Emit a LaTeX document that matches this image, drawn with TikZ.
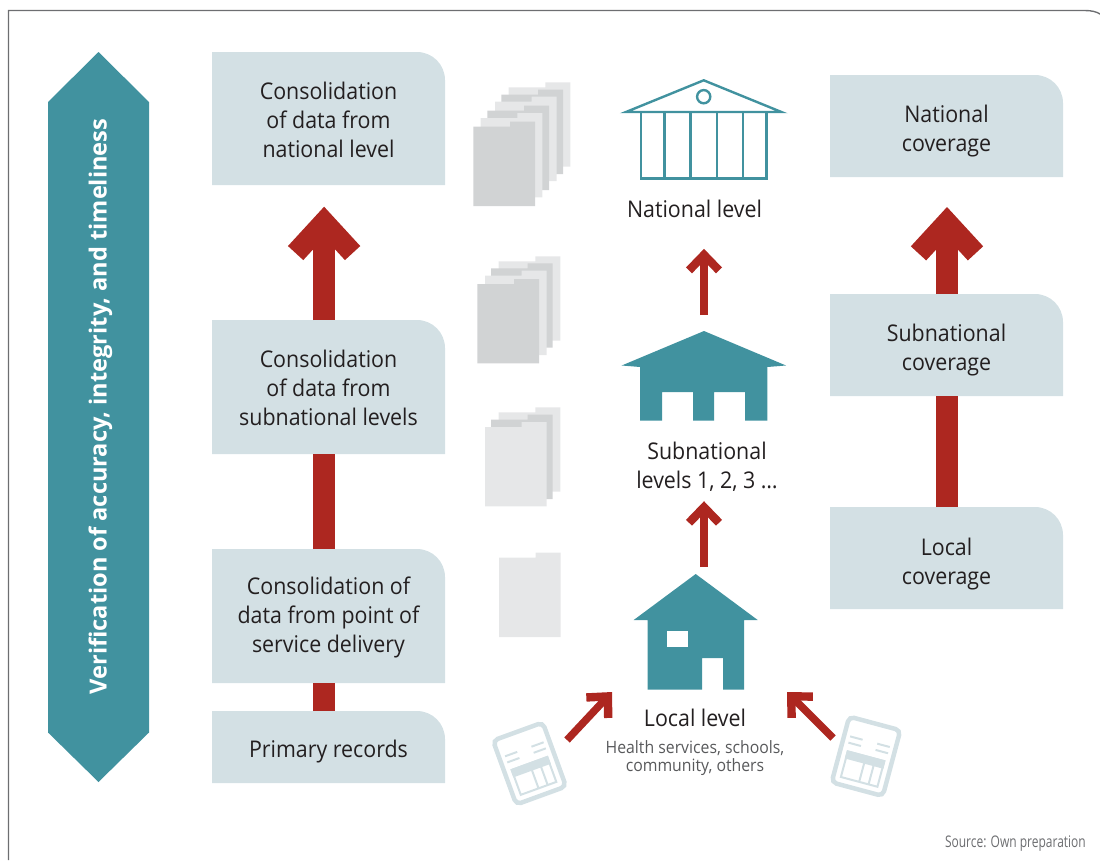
\documentclass[tikz,border=0pt]{standalone}
\usepackage{fontspec}
\setmainfont[FakeStretch=0.93]{Open Sans}
\newfontfamily\srcfont[FakeStretch=0.75]{Open Sans}
\newfontfamily\vfont{Open Sans}
\usetikzlibrary{arrows.meta,calc}
\definecolor{boxc}{HTML}{D3E0E4}
\definecolor{teal}{HTML}{41929F}
\definecolor{redc}{HTML}{AD2720}
\definecolor{pagel}{HTML}{E6E7E8}
\definecolor{paged}{HTML}{D1D3D4}
\definecolor{txt}{HTML}{231F20}
\definecolor{subtxt}{HTML}{58595B}
\definecolor{framec}{HTML}{6D6E71}
\tikzset{
  boxarea/.style={inner sep=0pt,outer sep=0pt},
  boxtext/.style={inner sep=0pt,outer sep=0pt,align=center,text=txt,font=\fontsize{23}{29}\selectfont},
  lbl/.style={inner sep=0pt,outer sep=0pt,align=center,text=txt,font=\fontsize{23}{29}\selectfont},
  sublbl/.style={inner sep=0pt,outer sep=0pt,align=center,text=subtxt,font=\fontsize{17}{18}\selectfont},
  iconbox/.style={inner sep=0pt,outer sep=0pt},
  bigbar/.style={draw=redc,line width=22pt},
  bigarrow/.style={bigbar,-{Straight Barb[length=31pt,width=57pt,line width=20.8pt]}},
  smallarrow/.style={draw=redc,line width=8pt,-{Straight Barb[length=15.5pt,width=30pt,line width=8.4pt]}},
  formline/.style={draw=boxc,line width=2pt},
}
% name, x1, y1, x2, y2, text offset, text
\newcommand{\cbox}[7]{%
  \fill[boxc] (#2,#5) -- (#2,#3) -- (#4-28,#3) arc[start angle=90,end angle=0,radius=28pt] -- (#4,#5) -- cycle;
  \node[boxarea,minimum width=#4pt-#2pt,minimum height=#5pt-#3pt] (#1) at ({(#2+#4)/2},{(#3+#5)/2}) {};
  \node[boxtext] (#1t) at ({(#2+#4)/2},{(#3+#5)/2+#6}) {#7};
}
% right x, top y, colour
\newcommand{\dpage}[3]{%
  \fill[#3] (#1,#2) -- (#1,#2+84.3) -- (#1-61.7,#2+84.3) -- (#1-61.7,#2+5) -- (#1-25,#2+5) -- (#1-25,#2) -- cycle;
}
% name, x, y, angle
\newcommand{\formicon}[4]{%
  \node[iconbox,minimum width=58pt,minimum height=73pt,rotate=#4] (#1) at (#2,#3) {};
  \begin{scope}[shift={(#2,#3)},rotate=#4,scale=1.08]
    \draw[boxc,line width=4.5pt,rounded corners=5pt] (-24.5,-31.5) rectangle (24.5,31.5);
    \draw[formline] (-19,-14) -- (-7,-14) (-19,-8) -- (-7,-8) (7,-14) -- (19,-14) (7,-8) -- (19,-8);
    \fill[boxc] (-18.5,-1) rectangle (18.5,7);
    \draw[formline] (-17.5,0) rectangle (17.5,24.5) (0,6) -- (0,24.5) (9,6) -- (9,24.5);
  \end{scope}
}
\begin{document}
\begin{tikzpicture}[x=1pt,y=-1pt]
\useasboundingbox (0,0) rectangle (1100,860);
% frame
\draw[framec,line width=1.4pt] (8.5,860) -- (8.5,10.5) -- (1085,10.5) .. controls (1092,10.5) and (1097,12) .. (1100,14);
% verification double arrow
\fill[teal] (98.5,52) -- (149,102) -- (149,732.5) -- (98.5,782) -- (48,732.5) -- (48,102) -- cycle;
\node[inner sep=0pt,rotate=90,text=white,font=\vfont\fontsize{23.6}{28}\selectfont\bfseries] (verif) at (100.5,406.5) {Verification of accuracy, integrity, and timeliness};
% left boxes
\cbox{La}{212}{52}{445}{185}{1}{Consolidation\\of data from\\national level}
\cbox{Lb}{212}{320}{445}{454}{1}{Consolidation\\of data from\\subnational levels}
\cbox{Lc}{212}{549}{445}{683}{1.5}{Consolidation of\\data from point of\\service delivery}
\cbox{Ld}{212}{711}{445}{783}{5}{Primary records}
% right boxes
\cbox{Ra}{830}{75}{1063}{177}{5}{National\\coverage}
\cbox{Rb}{830}{294}{1063}{396}{5}{Subnational\\coverage}
\cbox{Rc}{830}{507}{1063}{609}{6}{Local\\coverage}
% big connectors
\draw[bigarrow,shorten >=21.7pt] ([xshift=-4.4pt]Lb.north) -- ([xshift=-4.4pt]La.south);
\draw[bigbar] ([xshift=-4.4pt]Lc.north) -- ([xshift=-4.4pt]Lb.south);
\draw[bigbar] ([xshift=-4.4pt]Ld.north) -- ([xshift=-4.4pt]Lc.south);
\draw[bigarrow,shorten >=30pt] ([xshift=.5pt]Rb.north) -- ([xshift=.5pt]Ra.south);
\draw[bigbar] ([xshift=.5pt]Rc.north) -- ([xshift=.5pt]Rb.south);
% page stacks
\dpage{570.3}{82.3}{pagel}
\dpage{563}{89.7}{paged}
\dpage{556.7}{96.7}{pagel}
\dpage{549}{105.7}{paged}
\dpage{542.3}{113}{pagel}
\dpage{535}{121.7}{paged}
\dpage{560.3}{256.3}{pagel}
\dpage{552.7}{263.3}{paged}
\dpage{546.7}{270.7}{pagel}
\dpage{539}{279}{paged}
\dpage{560.3}{407.3}{pagel}
\dpage{552.7}{414.7}{paged}
\dpage{546.7}{422}{pagel}
\dpage{560.7}{552.7}{pagel}
% national building
\node[iconbox,minimum width=164pt,minimum height=100pt] (natb) at (703.7,129) {};
\draw[teal,line width=2.4pt,line join=miter,miter limit=20] (626,112) -- (703.7,80.3) -- (781.4,112) -- cycle;
\draw[teal,line width=2.4pt] (703.7,96.7) circle[radius=6.6pt];
\draw[teal,line width=2.4pt] (641,112) rectangle (766.3,178.5)
  (664.3,112) -- (664.3,178.5) (690.3,112) -- (690.3,178.5) (716.7,112) -- (716.7,178.5) (743,112) -- (743,178.5);
\node[lbl] (natl) at (694.5,209) {National level};
% subnational house
\node[iconbox,minimum width=164pt,minimum height=89pt] (subh) at (704,375.5) {};
\fill[teal] (704,331) -- (786,365.5) -- (767.3,367) -- (767.3,420.7) -- (745,420.7) -- (745,392) -- (714,392) -- (714,420.7) -- (693,420.7) -- (693,392) -- (662,392) -- (662,420.7) -- (640,420.7) -- (640,367) -- (621.7,365.5) -- cycle;
\node[lbl] (subl) at (707,466.5) {Subnational\\levels 1, 2, 3 …};
% local house
\node[iconbox,minimum width=124pt,minimum height=116pt] (loch) at (695.7,632) {};
\fill[teal] (695.7,574) -- (757.7,620) -- (744,620) -- (744,689.7) -- (723,689.7) -- (723,658) -- (702,658) -- (702,689.7) -- (647.7,689.7) -- (647.7,620) -- (633.7,620) -- cycle;
\fill[white] (667,631) rectangle (688,647);
\node[lbl] (locl) at (695,718) {Local level};
\node[sublbl] (locs) at (695,758) {Health services, schools,\\community, others};
% forms
\formicon{forma}{529.5}{763.5}{20}
\formicon{formb}{866}{756.3}{-15}
% small connectors
\draw[smallarrow,shorten <=16pt,shorten >=31pt] (subh.north) -- (natl.south -| subh.north);
\draw[smallarrow,shorten <=7pt] (loch.north -| subh.north) -- ([yshift=-10pt]subl.south -| subh.north);
\coordinate (da) at (567,740);
\coordinate (dat) at (612,692);
\coordinate (db) at (833,738);
\coordinate (dbt) at (787,692);
\draw[smallarrow,line width=7.5pt] (da) -- (dat);
\draw[smallarrow,line width=7.5pt] (db) -- (dbt);
% source
\node[anchor=east,inner sep=0pt,text=framec,font=\fontsize{16}{18}\selectfont\srcfont] (src) at (1086,844) {Source: Own preparation};
\end{tikzpicture}
\end{document}
